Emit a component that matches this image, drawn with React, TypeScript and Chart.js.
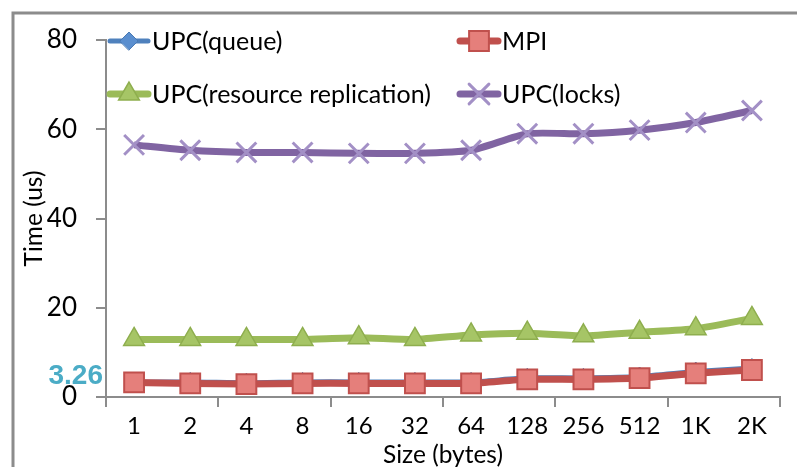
import React, { useEffect, useRef } from "react";
import { Chart, registerables } from "chart.js";
import { drawPoint } from "chart.js/helpers";

Chart.register(...registerables);

// ---- data ----
const categories = ["1", "2", "4", "8", "16", "32", "64", "128", "256", "512", "1K", "2K"];
const upcQueue = [3.4, 3.5, 3.3, 3.5, 3.5, 3.5, 3.5, 4.4, 4.4, 4.7, 5.8, 6.6];
const mpi = [3.26, 3.05, 2.9, 3.05, 3.05, 3.05, 3.05, 3.95, 3.95, 4.25, 5.3, 6.05];
const upcReplication = [12.9, 12.9, 12.9, 12.9, 13.3, 12.9, 13.9, 14.3, 13.7, 14.5, 15.3, 17.6];
const upcLocks = [56.5, 55.3, 54.8, 54.8, 54.6, 54.6, 55.3, 59.0, 59.0, 59.8, 61.5, 64.2];
const yTicks = [0, 20, 40, 60, 80];
const seriesNames = ["UPC(queue)", "MPI", "UPC(resource replication)", "UPC(locks)"];
const annotationValue = 3.26;
const xTitle = "Size (bytes)";
const yTitle = "Time (us)";

const AXIS_GRAY = "#8c8c8c";
const FONT = "Lato";

const framePlugin = {
  id: "frame",
  beforeDraw(chart: any) {
    const ctx = chart.ctx;
    ctx.save();
    ctx.fillStyle = "#ffffff";
    ctx.fillRect(0, 0, chart.width, chart.height);
    ctx.strokeStyle = AXIS_GRAY;
    ctx.lineWidth = 3;
    ctx.strokeRect(13, 13, chart.width + 40, chart.height + 40);
    ctx.restore();
  },
};

const legendSlots = [
  { x: 107, y: 41 },
  { x: 457, y: 41 },
  { x: 107, y: 94 },
  { x: 457, y: 94 },
];

const customLegend = {
  id: "customLegend",
  afterDraw(chart: any) {
    const ctx = chart.ctx;
    chart.data.datasets.forEach((ds: any, i: number) => {
      const slot = legendSlots[i];
      if (!slot) return;
      ctx.save();
      ctx.strokeStyle = ds.borderColor;
      ctx.lineWidth = Math.max(ds.borderWidth, 5);
      ctx.lineCap = "round";
      ctx.beginPath();
      ctx.moveTo(slot.x + 3, slot.y);
      ctx.lineTo(slot.x + 41, slot.y);
      ctx.stroke();
      ctx.fillStyle = ds.pointBackgroundColor;
      ctx.strokeStyle = ds.pointBorderColor;
      ctx.lineWidth = ds.pointBorderWidth;
      drawPoint(
        ctx,
        { pointStyle: ds.pointStyle, radius: ds.pointRadius, rotation: 0, borderWidth: ds.pointBorderWidth },
        slot.x + 22,
        slot.y
      );
      ctx.fillStyle = "#000";
      ctx.font = `25px ${FONT}`;
      ctx.textAlign = "left";
      ctx.textBaseline = "middle";
      ctx.fillText(ds.label, slot.x + 45, slot.y + 1);
      ctx.restore();
    });
  },
};

const valueLabel = {
  id: "valueLabel",
  afterDraw(chart: any) {
    const ctx = chart.ctx;
    const y = chart.scales.y.getPixelForValue(annotationValue);
    ctx.save();
    ctx.fillStyle = "#4bacc6";
    ctx.font = `bold 28px "Liberation Sans"`;
    ctx.textAlign = "right";
    ctx.textBaseline = "middle";
    ctx.fillText(String(annotationValue), 103, y - 6);
    ctx.restore();
  },
};

export default function App() {
  const canvasRef = useRef<HTMLCanvasElement | null>(null);

  useEffect(() => {
    const canvas = canvasRef.current;
    if (!canvas) return;
    const chart = new Chart(canvas, {
      type: "line",
      data: {
        labels: categories,
        datasets: [
          {
            label: seriesNames[0],
            data: upcQueue,
            order: 1,
            borderColor: "#4f81bd",
            borderWidth: 4,
            pointStyle: "rectRot",
            pointRadius: 9,
            pointBackgroundColor: "#5b8fcf",
            pointBorderColor: "#4a7ab4",
            pointBorderWidth: 1,
            tension: 0.2,
          },
          {
            label: seriesNames[1],
            data: mpi,
            order: 0,
            borderColor: "#c0504d",
            borderWidth: 7,
            pointStyle: "rect",
            pointRadius: 14,
            pointBackgroundColor: "#e57f7b",
            pointBorderColor: "#c0504d",
            pointBorderWidth: 2,
            tension: 0.2,
          },
          {
            label: seriesNames[2],
            data: upcReplication,
            order: 0,
            borderColor: "#9bbb59",
            borderWidth: 7,
            pointStyle: "triangle",
            pointRadius: 12,
            pointBackgroundColor: "#a6c566",
            pointBorderColor: "#8eae4e",
            pointBorderWidth: 1.5,
            tension: 0.2,
          },
          {
            label: seriesNames[3],
            data: upcLocks,
            order: 0,
            borderColor: "#8064a2",
            borderWidth: 7,
            pointStyle: "crossRot",
            pointRadius: 14,
            pointBackgroundColor: "#a793c9",
            pointBorderColor: "#a390c6",
            pointBorderWidth: 3,
            tension: 0.2,
          },
        ],
      },
      options: {
        responsive: false,
        animation: false,
        devicePixelRatio: 1,
        layout: { padding: { left: 0, top: 40, right: 9, bottom: 0 } },
        plugins: {
          legend: { display: false },
          tooltip: { enabled: false },
        },
        scales: {
          x: {
            type: "category",
            offset: true,
            grid: {
              offset: true,
              drawOnChartArea: false,
              drawTicks: true,
              tickLength: 10,
              lineWidth: 2,
              color: (c: any) =>
                c.index === undefined || c.index % 2 === 0 ? AXIS_GRAY : "rgba(0,0,0,0)",
            },
            border: { display: true, color: AXIS_GRAY, width: 2 },
            ticks: {
              color: "#000",
              font: { family: FONT, size: 24 },
              padding: 5,
              autoSkip: false,
              maxRotation: 0,
              minRotation: 0,
            },
            title: {
              display: true,
              text: xTitle,
              color: "#000",
              font: { family: FONT, size: 24.5, lineHeight: 1 },
              padding: { top: 0, bottom: 0 },
            },
            afterFit: (s: any) => {
              s.height = 70;
            },
          },
          y: {
            min: 0,
            max: 80,
            afterBuildTicks: (s: any) => {
              s.ticks = yTicks.map((v) => ({ value: v }));
            },
            grid: {
              drawOnChartArea: false,
              drawTicks: true,
              tickLength: 10,
              lineWidth: 2,
              color: AXIS_GRAY,
            },
            border: { display: true, color: AXIS_GRAY, width: 2 },
            ticks: {
              color: "#000",
              font: { family: FONT, size: 26 },
              padding: 19,
            },
            title: {
              display: true,
              text: yTitle,
              color: "#000",
              font: { family: FONT, size: 24.5, lineHeight: 1 },
              padding: { top: 22, bottom: 0 },
            },
            afterFit: (s: any) => {
              s.width = 106;
            },
          },
        },
      },
      plugins: [framePlugin, customLegend, valueLabel],
    } as any);
    return () => chart.destroy();
  }, []);

  return (
    <div style={{ position: "absolute", left: 0, top: 0, width: 797, height: 467, background: "#fff" }}>
      <canvas ref={canvasRef} width={797} height={467} />
    </div>
  );
}
